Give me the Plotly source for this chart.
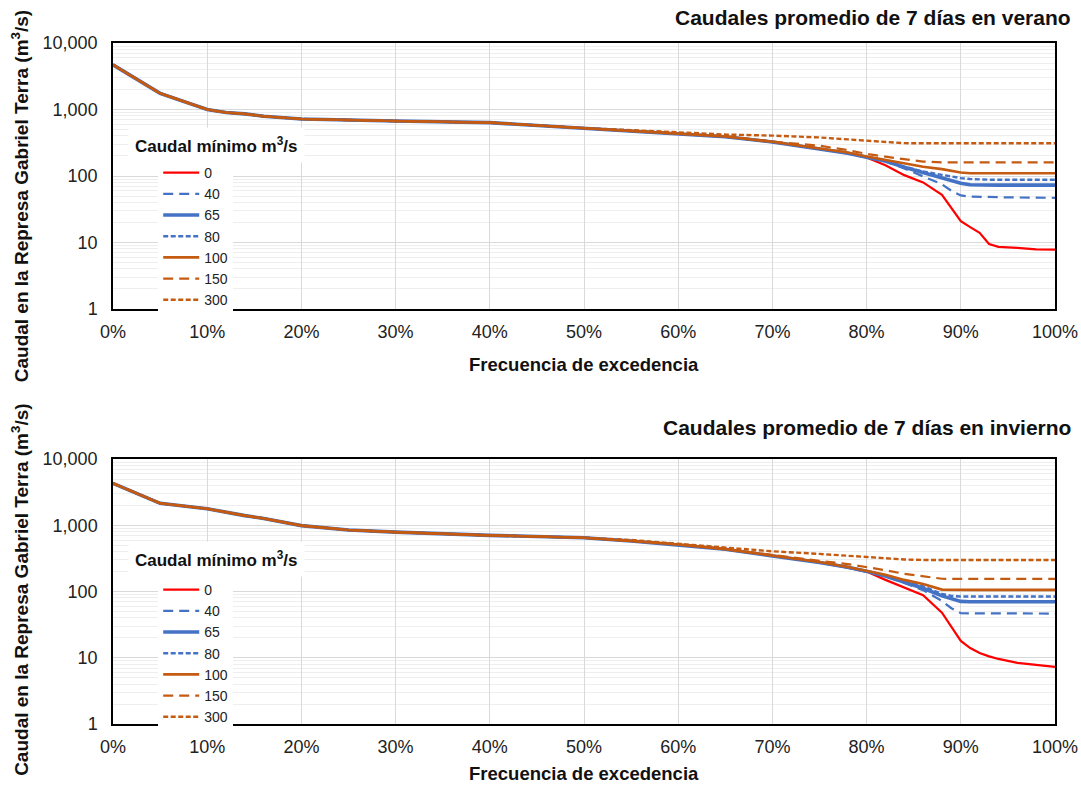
import plotly.graph_objects as go

# ---------------- data ----------------
HEAD_X = [0, 5, 10, 12, 14, 16, 20, 25, 30, 40, 50]
TAIL_X = [55, 60, 65, 70, 75, 78, 80, 82, 84, 86, 88, 89, 90, 91, 92, 93, 94, 96, 98, 100]

series_names = ["0", "40", "65", "80", "100", "150", "300"]

verano_head = [4700, 1750, 1000, 900, 860, 790, 720, 690, 670, 635, 525]
verano_0 = [475, 428, 390, 325, 258, 220, 190, 145, 103, 80, 52, 33, 21, 17, 14, 9.5, 8.6, 8.3, 7.9, 7.8]
verano_40 = [475, 428, 390, 325, 258, 220, 190, 165, 130, 100, 75, 60, 51, 49, 49, 48.5, 48, 47.5, 47, 47]
verano_65 = [475, 428, 390, 325, 258, 220, 192, 168, 135, 112, 95, 86, 78, 74, 73, 73, 73, 73, 73, 73]
verano_80 = [475, 428, 390, 325, 258, 220, 192, 170, 138, 117, 104, 98, 93, 90, 88, 88, 88, 88, 88, 88]
verano_100 = [475, 430, 392, 327, 262, 225, 197, 175, 152, 138, 127, 120, 113, 110, 110, 110, 110, 110, 110, 110]
verano_150 = [475, 430, 395, 330, 285, 245, 215, 195, 180, 165, 160, 160, 160, 160, 160, 160, 160, 160, 160, 160]
verano_300 = [490, 450, 420, 405, 380, 355, 340, 325, 312, 310, 310, 310, 310, 310, 310, 310, 310, 310, 310, 310]

invierno_head = [4300, 2150, 1780, 1560, 1400, 1270, 990, 850, 790, 705, 650]
invierno_0 = [580, 510, 435, 345, 275, 230, 200, 150, 115, 88, 48, 30, 18, 14, 11.8, 10.5, 9.6, 8.4, 7.8, 7.3]
invierno_40 = [580, 510, 435, 345, 275, 230, 200, 170, 135, 105, 72, 56, 47, 47, 46.5, 46.5, 46.5, 46.5, 46.5, 46.5]
invierno_65 = [580, 510, 435, 345, 275, 232, 203, 172, 140, 112, 86, 78, 71, 70, 70, 70, 70, 70, 70, 70]
invierno_80 = [580, 510, 435, 345, 275, 232, 203, 175, 145, 120, 92, 86, 84, 84, 84, 84, 84, 84, 84, 84]
invierno_100 = [580, 512, 437, 348, 280, 235, 207, 180, 150, 130, 107, 106, 106, 106, 106, 106, 106, 106, 106, 106]
invierno_150 = [580, 515, 440, 355, 290, 260, 235, 210, 185, 170, 156, 155, 155, 155, 155, 155, 155, 155, 155, 155]
invierno_300 = [600, 530, 465, 405, 370, 345, 335, 315, 305, 300, 300, 300, 300, 300, 300, 300, 300, 300, 300, 300]

y_tickvals = [1, 10, 100, 1000, 10000]
y_ticktext = ["1", "10", "100", "1,000", "10,000"]

# ---------------- styles ----------------
BLUE = "#4472C4"
ORANGE = "#C55A11"
RED = "#FF0000"
styles = {
    "0": dict(color=RED, width=2.2, dash="solid"),
    "40": dict(color=BLUE, width=2.2, dash="10px,6px"),
    "65": dict(color=BLUE, width=3.6, dash="solid"),
    "80": dict(color=BLUE, width=2.4, dash="5px,2.5px"),
    "100": dict(color=ORANGE, width=2.6, dash="solid"),
    "150": dict(color=ORANGE, width=2.2, dash="10px,6px"),
    "300": dict(color=ORANGE, width=2.4, dash="5px,2.5px"),
}

FONT = "Arial, 'Liberation Sans', sans-serif"

verano = [verano_0, verano_40, verano_65, verano_80, verano_100, verano_150, verano_300]
invierno = [invierno_0, invierno_40, invierno_65, invierno_80, invierno_100, invierno_150, invierno_300]

fig = go.Figure()

for name, tail in zip(series_names, verano):
    fig.add_trace(go.Scatter(
        x=HEAD_X + TAIL_X, y=verano_head + tail, mode="lines", name=name,
        line=styles[name], xaxis="x", yaxis="y", legend="legend",
    ))
for name, tail in zip(series_names, invierno):
    fig.add_trace(go.Scatter(
        x=HEAD_X + TAIL_X, y=invierno_head + tail, mode="lines", name=name,
        line=styles[name], xaxis="x2", yaxis="y2", legend="legend2",
    ))

xaxis_common = dict(
    range=[0, 100], dtick=10, ticksuffix="%", showgrid=True, gridcolor="#D9D9D9",
    gridwidth=1.3, showline=True, mirror=True, linecolor="#000000", linewidth=1.5,
    ticks="", tickfont=dict(family=FONT, size=18, color="#222"), ticklabelstandoff=6,
    zeroline=False, automargin=False,
)
yaxis_common = dict(
    type="log", range=[0, 4], tickvals=y_tickvals, ticktext=y_ticktext,
    showgrid=True, gridcolor="#D9D9D9", gridwidth=1.3,
    minor=dict(showgrid=True, gridcolor="#EEEEEE", gridwidth=1, dtick="D1"),
    showline=True, mirror=True, linecolor="#000000", linewidth=1.5,
    ticks="", tickfont=dict(family=FONT, size=18, color="#222"), ticklabelstandoff=10,
    zeroline=False, automargin=False,
)

legend_common = dict(
    bgcolor="#FFFFFF", borderwidth=0, font=dict(family=FONT, size=14, color="#222"),
    xanchor="left", yanchor="top", itemwidth=36, tracegroupgap=0,
)

fig.update_layout(
    width=1081, height=786,
    margin=dict(l=113, r=26, t=43, b=62, autoexpand=False),
    paper_bgcolor="#FFFFFF", plot_bgcolor="#FFFFFF",
    font=dict(family=FONT, color="#222"),
    xaxis=dict(domain=[0, 1], anchor="y", **xaxis_common),
    yaxis=dict(domain=[0.6094, 1], anchor="x", **yaxis_common),
    xaxis2=dict(domain=[0, 1], anchor="y2", **xaxis_common),
    yaxis2=dict(domain=[0, 0.389], anchor="x2", **yaxis_common),
    legend=dict(x=0.048, y=0.8326, **legend_common),
    legend2=dict(x=0.048, y=0.2203, **legend_common),
    showlegend=True,
)

ann_bold = dict(family=FONT, color="#111")
annotations = [
    dict(text="<b>Caudales promedio de 7 días en verano</b>", x=1.019, y=1.038,
         xanchor="right", yanchor="middle", font=dict(size=21, **ann_bold)),
    dict(text="<b>Caudales promedio de 7 días en invierno</b>", x=1.019, y=0.4347,
         xanchor="right", yanchor="middle", font=dict(size=21, **ann_bold)),
    dict(text="<b>Frecuencia de excedencia</b>", x=0.5, y=0.5286,
         xanchor="center", yanchor="middle", font=dict(size=18.5, **ann_bold)),
    dict(text="<b>Frecuencia de excedencia</b>", x=0.5, y=-0.072,
         xanchor="center", yanchor="middle", font=dict(size=18.5, **ann_bold)),
    dict(text="<b>Caudal en la Represa Gabriel Terra (m<sup>3</sup>/s)</b>", x=-0.0987, y=0.775,
         xanchor="center", yanchor="middle", textangle=-90, font=dict(size=19, **ann_bold)),
    dict(text="<b>Caudal en la Represa Gabriel Terra (m<sup>3</sup>/s)</b>", x=-0.0987, y=0.197,
         xanchor="center", yanchor="middle", textangle=-90, font=dict(size=19, **ann_bold)),
    dict(text="<b>Caudal mínimo m<sup>3</sup>/s</b>", x=0.0160, y=0.850,
         xanchor="left", yanchor="middle", bgcolor="#FFFFFF", borderpad=6,
         font=dict(size=17, **ann_bold)),
    dict(text="<b>Caudal mínimo m<sup>3</sup>/s</b>", x=0.0160, y=0.242,
         xanchor="left", yanchor="middle", bgcolor="#FFFFFF", borderpad=6,
         font=dict(size=17, **ann_bold)),
]
for a in annotations:
    a.update(xref="paper", yref="paper", showarrow=False)
fig.update_layout(annotations=annotations)

fig.write_html(
    "out.html",
    config={"displayModeBar": False},
    post_script="document.body.style.margin='0';document.body.style.overflow='hidden';",
)
